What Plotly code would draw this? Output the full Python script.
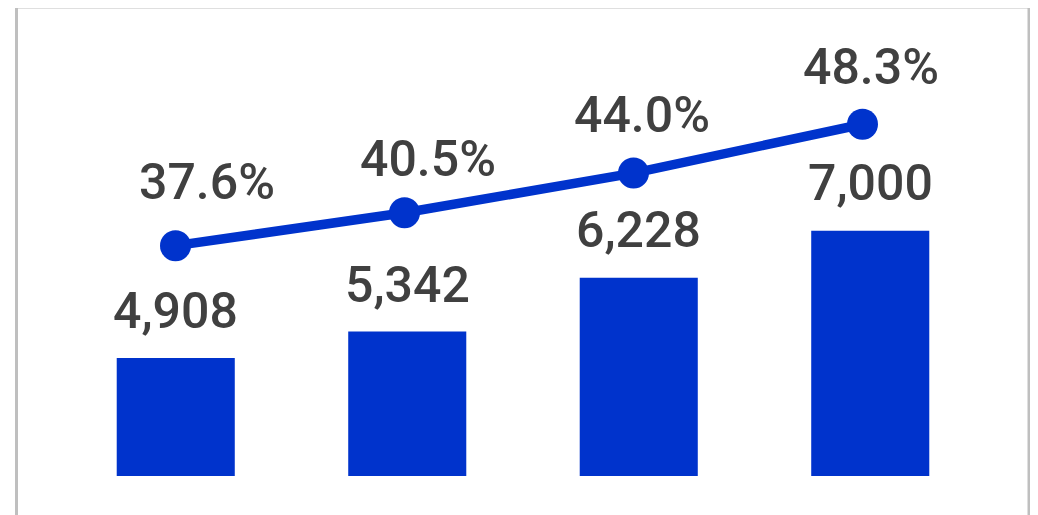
import plotly.graph_objects as go

# ---- data ----
categories = ["1", "2", "3", "4"]
bar_values = [4908, 5342, 6228, 7000]
pct_values = [37.6, 40.5, 44.0, 48.3]

# ---- style ----
BLUE = "#0033CC"
TEXT = "#404040"
FONT = "Roboto"
FS = 50
bar_label_yshift = [47, 47, 47.5, 47.5]
pct_label_xshift = [31.5, 23, 8, 8]
pct_label_yshift = [64, 54, 58.5, 57.5]

idx = list(range(len(categories)))

fig = go.Figure()
fig.add_trace(go.Bar(
    x=idx, y=bar_values, marker=dict(color=BLUE, line=dict(width=0)),
    width=0.51, xaxis="x", yaxis="y", hoverinfo="skip",
))
fig.add_trace(go.Scatter(
    x=idx, y=pct_values, mode="lines+markers",
    line=dict(color=BLUE, width=9.5),
    marker=dict(color=BLUE, size=31),
    xaxis="x2", yaxis="y2", hoverinfo="skip",
))

annotations = []
for i, v in enumerate(bar_values):
    annotations.append(dict(
        x=idx[i], y=v, xref="x", yref="y", text=f"{v:,}", showarrow=False,
        yanchor="middle", xanchor="center", yshift=bar_label_yshift[i],
        font=dict(family=FONT, size=FS, color=TEXT, weight=500),
    ))
for i, p in enumerate(pct_values):
    annotations.append(dict(
        x=idx[i], y=p, xref="x2", yref="y2", text=f"{p:.1f}%", showarrow=False,
        yanchor="middle", xanchor="center",
        xshift=pct_label_xshift[i], yshift=pct_label_yshift[i],
        font=dict(family=FONT, size=FS, color=TEXT, weight=500),
    ))

fig.update_layout(
    width=1038, height=515,
    margin=dict(l=52, r=60, t=12, b=47, pad=0),
    paper_bgcolor="white", plot_bgcolor="white",
    showlegend=False,
    xaxis=dict(range=[-0.5, 3.5], visible=False, fixedrange=True),
    xaxis2=dict(range=[-0.5044, 3.5393], visible=False, overlaying="x", fixedrange=True),
    yaxis=dict(range=[2969, 10463], visible=False, fixedrange=True),
    yaxis2=dict(range=[17.30, 57.49], visible=False, overlaying="y", fixedrange=True),
    annotations=annotations,
    shapes=[dict(
        type="rect", xref="paper", yref="paper",
        x0=-0.04698, x1=1.04644, y0=-0.2, y1=1.0285,
        line=dict(color="#BFBFBF", width=3), fillcolor="rgba(0,0,0,0)",
        layer="below",
    )],
)

fig.write_html("out.html", config={"displayModeBar": False})
